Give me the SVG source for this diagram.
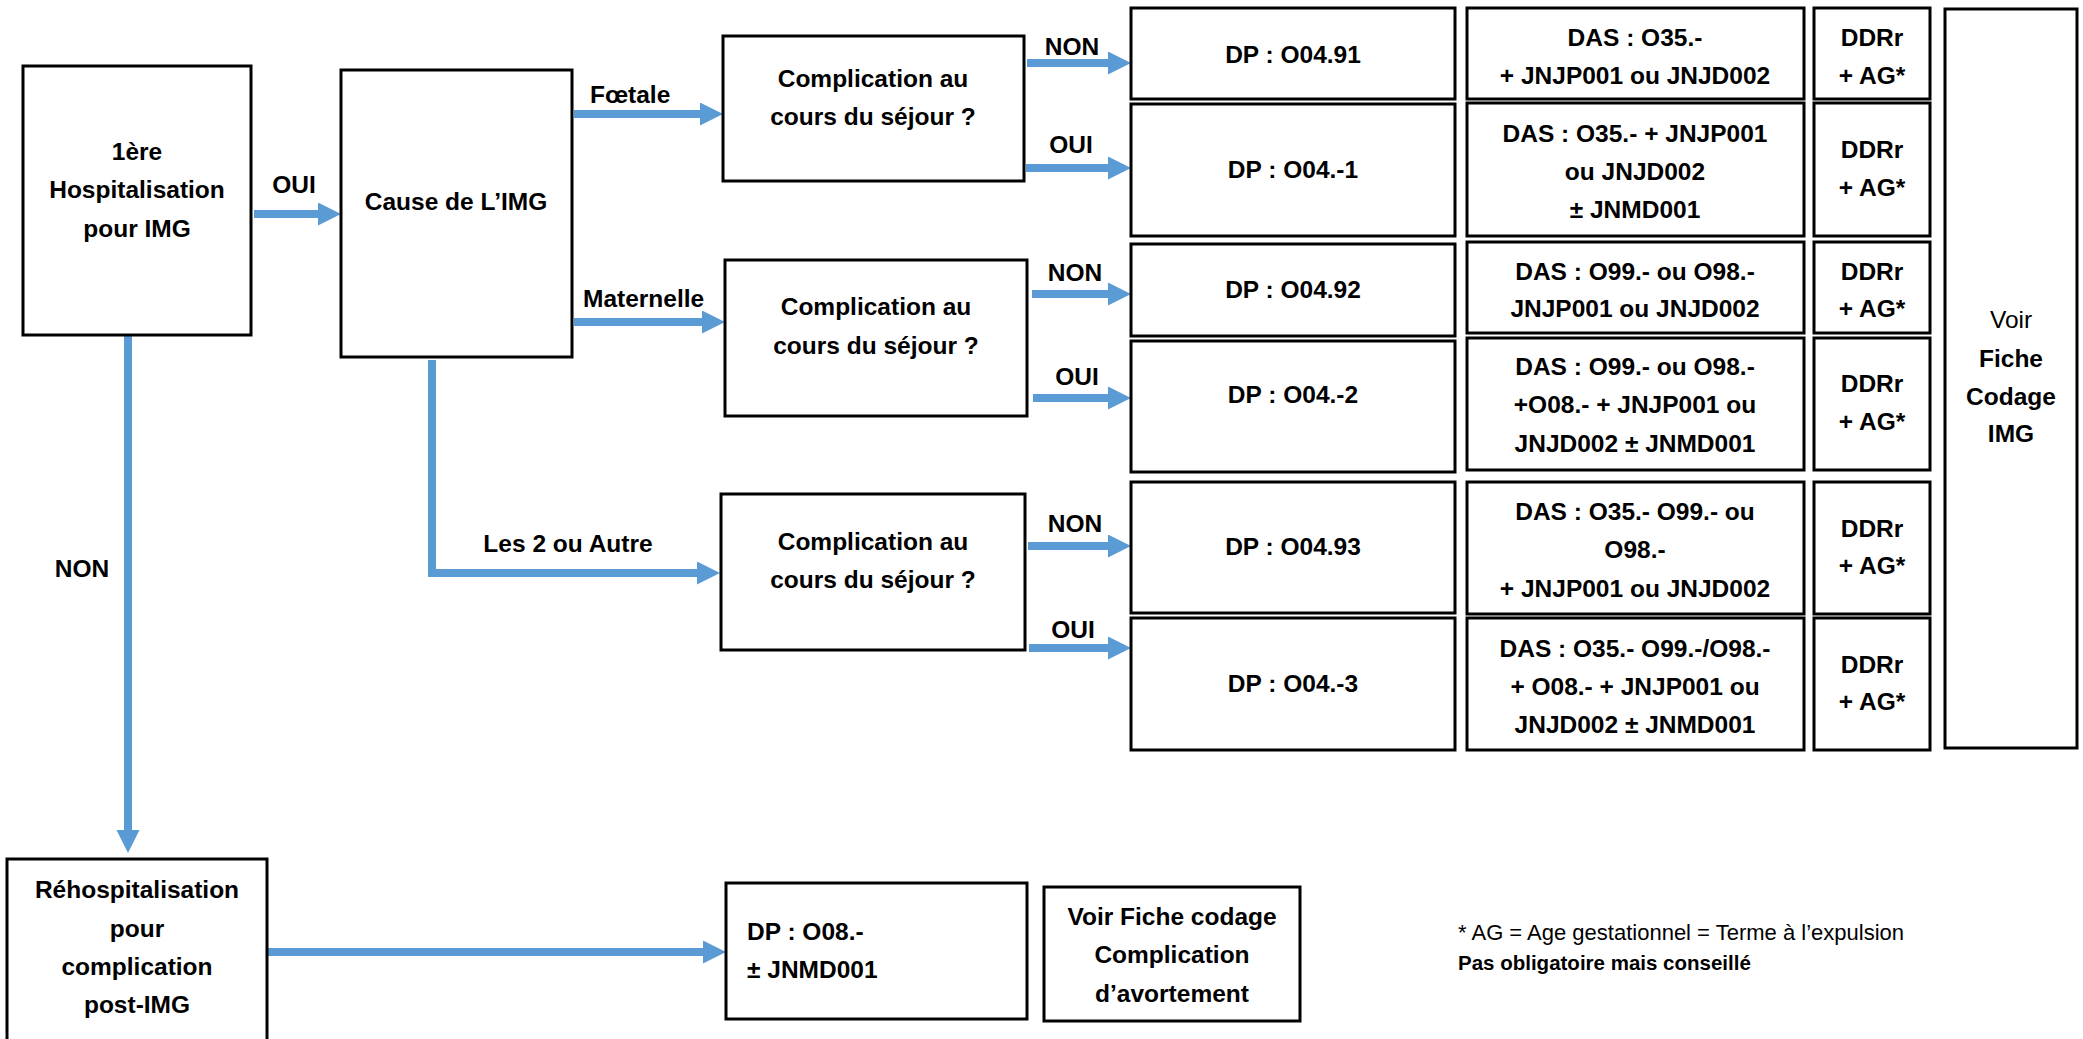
<svg xmlns="http://www.w3.org/2000/svg" width="2083" height="1039" viewBox="0 0 2083 1039">
<style>
.box{fill:#fff;stroke:#000;stroke-width:3}
.t{font-family:"Liberation Sans",Arial,sans-serif;font-weight:bold;font-size:24.5px;fill:#000;text-anchor:middle}
.l{text-anchor:start}
.r{font-weight:normal}
.c{fill:none;stroke:#5B9BD5;stroke-width:8;stroke-linejoin:miter}
.fn{font-family:"Liberation Sans",Arial,sans-serif;font-size:22px;fill:#000}
.fb{font-size:20.5px;font-weight:bold}
</style>
<defs>
<marker id="ah" markerUnits="userSpaceOnUse" markerWidth="24" markerHeight="24" refX="0" refY="11.5" orient="auto" viewBox="0 0 24 24">
<path d="M0,0 L23,11.5 L0,23 Z" fill="#5B9BD5"/>
</marker>
</defs>
<rect width="2083" height="1039" fill="#fff"/>

<g id="connectors">
<line class="c" x1="254" y1="214" x2="318" y2="214" marker-end="url(#ah)"/>
<line class="c" x1="574" y1="114" x2="700" y2="114" marker-end="url(#ah)"/>
<line class="c" x1="574" y1="322" x2="702" y2="322" marker-end="url(#ah)"/>
<polyline class="c" points="432,360 432,573 697,573" marker-end="url(#ah)"/>
<line class="c" x1="128" y1="335" x2="128" y2="830" marker-end="url(#ah)"/>
<line class="c" x1="268" y1="952" x2="703" y2="952" marker-end="url(#ah)"/>
<line class="c" x1="1027" y1="63" x2="1108" y2="63" marker-end="url(#ah)"/>
<line class="c" x1="1026" y1="168" x2="1108" y2="168" marker-end="url(#ah)"/>
<line class="c" x1="1032" y1="294" x2="1108" y2="294" marker-end="url(#ah)"/>
<line class="c" x1="1033" y1="398" x2="1108" y2="398" marker-end="url(#ah)"/>
<line class="c" x1="1028" y1="546" x2="1108" y2="546" marker-end="url(#ah)"/>
<line class="c" x1="1029" y1="648" x2="1108" y2="648" marker-end="url(#ah)"/>
<text class="t" x="294" y="193">OUI</text>
<text class="t l" x="590" y="103">Fœtale</text>
<text class="t l" x="583" y="307">Maternelle</text>
<text class="t" x="568" y="552">Les 2 ou Autre</text>
<text class="t" x="82" y="577">NON</text>
<text class="t" x="1072" y="55">NON</text>
<text class="t" x="1071" y="153">OUI</text>
<text class="t" x="1075" y="281">NON</text>
<text class="t" x="1077" y="385">OUI</text>
<text class="t" x="1075" y="532">NON</text>
<text class="t" x="1073" y="638">OUI</text>
</g>

<g id="hosp1">
<rect class="box" x="23" y="66" width="228" height="269"/>
<text class="t" x="137" y="160">1ère</text>
<text class="t" x="137" y="198">Hospitalisation</text>
<text class="t" x="137" y="237">pour IMG</text>
</g>
<g id="cause">
<rect class="box" x="341" y="70" width="231" height="287"/>
<text class="t" x="456" y="210">Cause de L’IMG</text>
</g>
<g id="comp1">
<rect class="box" x="723" y="36" width="301" height="145"/>
<text class="t" x="873" y="87">Complication au</text>
<text class="t" x="873" y="125">cours du séjour ?</text>
</g>
<g id="comp2">
<rect class="box" x="725" y="260" width="302" height="156"/>
<text class="t" x="876" y="315">Complication au</text>
<text class="t" x="876" y="354">cours du séjour ?</text>
</g>
<g id="comp3">
<rect class="box" x="721" y="494" width="304" height="156"/>
<text class="t" x="873" y="550">Complication au</text>
<text class="t" x="873" y="588">cours du séjour ?</text>
</g>

<g id="dp1"><rect class="box" x="1131" y="8" width="324" height="91"/><text class="t" x="1293" y="63">DP : O04.91</text></g>
<g id="dp2"><rect class="box" x="1131" y="104" width="324" height="132"/><text class="t" x="1293" y="178">DP : O04.-1</text></g>
<g id="dp3"><rect class="box" x="1131" y="244" width="324" height="92"/><text class="t" x="1293" y="298">DP : O04.92</text></g>
<g id="dp4"><rect class="box" x="1131" y="341" width="324" height="131"/><text class="t" x="1293" y="403">DP : O04.-2</text></g>
<g id="dp5"><rect class="box" x="1131" y="482" width="324" height="131"/><text class="t" x="1293" y="555">DP : O04.93</text></g>
<g id="dp6"><rect class="box" x="1131" y="618" width="324" height="132"/><text class="t" x="1293" y="692">DP : O04.-3</text></g>

<g id="das1"><rect class="box" x="1467" y="8" width="337" height="91"/>
<text class="t" x="1635" y="46">DAS : O35.-</text><text class="t" x="1635" y="84">+ JNJP001 ou JNJD002</text></g>
<g id="das2"><rect class="box" x="1467" y="103" width="337" height="133"/>
<text class="t" x="1635" y="142">DAS : O35.- + JNJP001</text><text class="t" x="1635" y="180">ou JNJD002</text><text class="t" x="1635" y="218">± JNMD001</text></g>
<g id="das3"><rect class="box" x="1467" y="242" width="337" height="91"/>
<text class="t" x="1635" y="280">DAS : O99.- ou O98.-</text><text class="t" x="1635" y="317">JNJP001 ou JNJD002</text></g>
<g id="das4"><rect class="box" x="1467" y="338" width="337" height="132"/>
<text class="t" x="1635" y="375">DAS : O99.- ou O98.-</text><text class="t" x="1635" y="413">+O08.- + JNJP001 ou</text><text class="t" x="1635" y="452">JNJD002 ± JNMD001</text></g>
<g id="das5"><rect class="box" x="1467" y="482" width="337" height="132"/>
<text class="t" x="1635" y="520">DAS : O35.- O99.- ou</text><text class="t" x="1635" y="558">O98.-</text><text class="t" x="1635" y="597">+ JNJP001 ou JNJD002</text></g>
<g id="das6"><rect class="box" x="1467" y="618" width="337" height="132"/>
<text class="t" x="1635" y="657">DAS : O35.- O99.-/O98.-</text><text class="t" x="1635" y="695">+ O08.- + JNJP001 ou</text><text class="t" x="1635" y="733">JNJD002 ± JNMD001</text></g>

<g id="ddr1"><rect class="box" x="1814" y="8" width="116" height="91"/><text class="t" x="1872" y="46">DDRr</text><text class="t" x="1872" y="84">+ AG*</text></g>
<g id="ddr2"><rect class="box" x="1814" y="103" width="116" height="133"/><text class="t" x="1872" y="158">DDRr</text><text class="t" x="1872" y="196">+ AG*</text></g>
<g id="ddr3"><rect class="box" x="1814" y="242" width="116" height="91"/><text class="t" x="1872" y="280">DDRr</text><text class="t" x="1872" y="317">+ AG*</text></g>
<g id="ddr4"><rect class="box" x="1814" y="338" width="116" height="132"/><text class="t" x="1872" y="392">DDRr</text><text class="t" x="1872" y="430">+ AG*</text></g>
<g id="ddr5"><rect class="box" x="1814" y="482" width="116" height="132"/><text class="t" x="1872" y="537">DDRr</text><text class="t" x="1872" y="574">+ AG*</text></g>
<g id="ddr6"><rect class="box" x="1814" y="618" width="116" height="132"/><text class="t" x="1872" y="673">DDRr</text><text class="t" x="1872" y="710">+ AG*</text></g>

<g id="voir"><rect class="box" x="1945" y="9" width="132" height="739"/>
<text class="t r" x="2011" y="328">Voir</text><text class="t" x="2011" y="367">Fiche</text><text class="t" x="2011" y="405">Codage</text><text class="t" x="2011" y="442">IMG</text></g>

<g id="rehosp"><rect class="box" x="7" y="859" width="260" height="190"/>
<text class="t" x="137" y="898">Réhospitalisation</text><text class="t" x="137" y="937">pour</text><text class="t" x="137" y="975">complication</text><text class="t" x="137" y="1013">post-IMG</text></g>

<g id="dp08"><rect class="box" x="726" y="883" width="301" height="136"/>
<text class="t l" x="747" y="940">DP : O08.-</text><text class="t l" x="747" y="978">± JNMD001</text></g>

<g id="voircomp"><rect class="box" x="1044" y="887" width="256" height="134"/>
<text class="t" x="1172" y="925">Voir Fiche codage</text><text class="t" x="1172" y="963">Complication</text><text class="t" x="1172" y="1002">d’avortement</text></g>

<g id="footnote">
<text class="fn" x="1458" y="940">* AG = Age gestationnel = Terme à l’expulsion</text>
<text class="fn fb" x="1458" y="970">Pas obligatoire mais conseillé</text>
</g>
</svg>
